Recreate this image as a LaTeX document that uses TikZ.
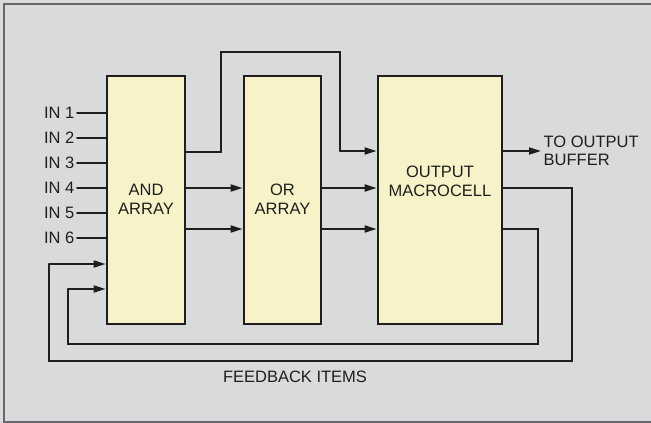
\documentclass[tikz,border=0pt]{standalone}
\usepackage{fontspec}
\setmainfont{Liberation Sans}
\usetikzlibrary{arrows.meta,positioning,calc}

\definecolor{bggray}{HTML}{D9DADC}
\definecolor{framegray}{HTML}{66676A}
\definecolor{cellfill}{HTML}{F7F2C8}
\definecolor{inkdark}{HTML}{1E1E1E}

\tikzset{
  block/.style={draw=inkdark,line width=2.8pt,fill=cellfill,minimum height=248pt,inner sep=0pt},
  wire/.style={draw=inkdark,line width=1.9pt,line cap=round,line join=miter},
  feed/.style={wire,-{Triangle[length=12pt,width=7pt]}},
  lbl/.style={font=\fontsize{16.5}{18}\selectfont,text=inkdark,inner sep=2.5pt,align=left},
  celltxt/.style={font=\fontsize{16.5}{19}\selectfont,text=inkdark,align=center,inner sep=0pt}
}

\begin{document}
\begin{tikzpicture}[x=1pt,y=-1pt,line cap=round]
\useasboundingbox (0,0) rectangle (651,423);
% background + frame
\fill[bggray] (0,0) rectangle (651,423);
\draw[framegray,line width=1.4pt] (651,4)--(4,4)--(4,422)--(651,422);
% blocks
\node[block,minimum width=78pt] (and) at (146,200) {};
\node[block,minimum width=77pt] (or) at (282.5,200) {};
\node[block,minimum width=124pt] (out) at (440,200) {};
\node[celltxt] (andtxt) at (146,199) {AND\\ARRAY};
\node[celltxt] (ortxt) at (282.5,199) {OR\\ARRAY};
\node[celltxt] (outtxt) at (440,181) {OUTPUT\\MACROCELL};
% inputs
\foreach \i/\y in {1/113,2/138,3/163,4/188,5/213,6/238}{
  \node[lbl,anchor=east] (in\i) at (77,\y) {IN \i};
  \draw[wire] (in\i.east) -- (in\i.east -| and.west);
}
% AND -> OR, OR -> OUT
\foreach \y [count=\k] in {188,229}{
  \coordinate (ao\k) at (and.east |- 0,\y);
  \coordinate (oo\k) at (or.east |- 0,\y);
  \draw[feed] (ao\k) -- (ao\k -| or.west);
  \draw[feed] (oo\k) -- (oo\k -| out.west);
}
% bypass over OR array
\coordinate (byp1) at (221,152);
\coordinate (byp2) at (221,52);
\coordinate (byp3) at (340,52);
\coordinate (byp4) at (340,151);
\draw[wire] (and.east |- byp1) -- (byp1) -- (byp2) -- (byp3) -- (byp4);
\draw[feed] (byp4) -- (byp4 -| out.west);
% output
\coordinate (obuf) at (out.east |- 0,151);
\node[lbl,anchor=west] (buf) at (541,151) {TO OUTPUT\\BUFFER};
\draw[feed] (obuf) -- (buf.west);
% feedback paths
\coordinate (fa1) at (572,188);
\coordinate (fa2) at (572,361);
\coordinate (fa3) at (49,361);
\coordinate (fa4) at (49,264);
\draw[wire] (out.east |- fa1) -- (fa1) -- (fa2) -- (fa3) -- (fa4);
\draw[feed] (fa4) -- (fa4 -| and.west);
\coordinate (fb1) at (538,229);
\coordinate (fb2) at (538,344);
\coordinate (fb3) at (68,344);
\coordinate (fb4) at (68,289);
\draw[wire] (out.east |- fb1) -- (fb1) -- (fb2) -- (fb3) -- (fb4);
\draw[feed] (fb4) -- (fb4 -| and.west);
\node[lbl] (fbtxt) at (295,377) {FEEDBACK ITEMS};
\end{tikzpicture}
\end{document}
